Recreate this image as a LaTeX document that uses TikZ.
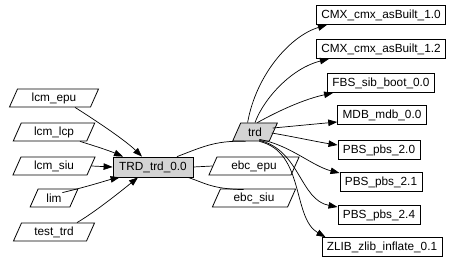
\documentclass[tikz,border=0pt]{standalone}
\usepackage{fontspec}
\setmainfont{Liberation Sans}
\usetikzlibrary{shapes.geometric,arrows.meta,calc}
\definecolor{nodegray}{RGB}{211,211,211}
\begin{document}
\begin{tikzpicture}[x=1pt,y=-1pt,
  every node/.style={font=\fontsize{11.8}{13}\selectfont, inner sep=0pt},
  pbox/.style={draw, line width=0.8pt, rectangle, minimum height=19pt, inner xsep=5pt},
  para/.style={draw, line width=0.8pt, trapezium, trapezium left angle=66, trapezium right angle=114, minimum height=18pt},
  hl/.style={fill=nodegray},
  ln/.style={line width=0.7pt},
  arr/.style={line width=0.7pt, -{Triangle[length=9pt,width=6.5pt]}}]
\useasboundingbox (0,0) rectangle (465,264);
% left inputs
\node[para, minimum width=67pt] (epu) at (54,98) {lcm\_epu};
\node[para, minimum width=67pt] (lcp) at (54,132) {lcm\_lcp};
\node[para, minimum width=67pt] (siu) at (54,166) {lcm\_siu};
\node[para, minimum width=36pt] (lim) at (54,198) {lim};
\node[para, minimum width=66pt] (test) at (54,232) {test\_trd};
% center
\node[pbox, hl, minimum width=80pt, minimum height=20pt, inner xsep=0pt] (T) at (153,167) {TRD\_trd\_0.0};
\node[para, hl, minimum width=36pt] (trd) at (255,132) {trd};
\node[para, minimum width=65pt] (ebce) at (254,166) {ebc\_epu};
\node[para, minimum width=65pt] (ebcs) at (254,198) {ebc\_siu};
% right outputs
\node[pbox] (c10) at (381,15) {CMX\_cmx\_asBuilt\_1.0};
\node[pbox] (c12) at (381,49) {CMX\_cmx\_asBuilt\_1.2};
\node[pbox] (fbs) at (381,83) {FBS\_sib\_boot\_0.0};
\node[pbox] (mdb) at (382,115) {MDB\_mdb\_0.0};
\node[pbox] (p20) at (379,150) {PBS\_pbs\_2.0};
\node[pbox] (p21) at (381,182) {PBS\_pbs\_2.1};
\node[pbox] (p24) at (379,215) {PBS\_pbs\_2.4};
\node[pbox] (zlib) at (382,247) {ZLIB\_zlib\_inflate\_0.1};
% left edges
\draw[arr] ($(epu.south)+(21,0)$) .. controls (95,120) and (125,140) .. ($(T.north)+(-11,0)$);
\draw[arr] ($(lcp.south)+(26,0)$) .. controls (95,146) and (110,151) .. ($(T.north)+(-30,0)$);
\draw[arr] (siu.east) -- (T.west);
\draw[arr] ($(lim.north east)+(-1,4)$) .. controls (90,186) and (108,180) .. ($(T.south west)+(7,0)$);
\draw[arr] ($(test.north)+(23,0)$) .. controls (95,212) and (120,192) .. ($(T.south)+(-15,0)$);
% center links
\draw[ln] ($(T.north)+(24,0)$) .. controls (200,148) and (215,140) .. (trd.south west);
\draw[ln] (T.east) -- (ebce.west);
\draw[ln] ($(T.south)+(35,0)$) .. controls (205,183) and (212,189) .. ($(ebcs.north west)+(-1,1)$);
% right edges
\draw[arr] ($(trd.north west)+(2,0)$) .. controls (256,75) and (290,36) .. ($(c10.south west)+(11,0)$);
\draw[arr] ($(trd.north)+(0,0)$) .. controls (264,98) and (292,68) .. ($(c12.south west)+(13,0)$);
\draw[arr] ($(trd.north east)+(-7,0)$) .. controls (280,110) and (305,99) .. ($(fbs.south west)+(6,0)$);
\draw[arr] ($(trd.east)+(-1,-4)$) .. controls (295,126) and (315,124) .. ($(mdb.west)+(0,7)$);
\draw[arr] ($(trd.east)+(-2,1)$) .. controls (295,137) and (318,142) .. ($(p20.west)+(0,-5)$);
\draw[arr] ($(trd.south east)+(-5,-2)$) .. controls (290,145) and (312,166) .. ($(p21.west)+(0,-9)$);
\draw[arr] ($(trd.south east)+(-5,-1)$) .. controls (300,150) and (300,200) .. ($(p24.west)+(0,-8)$);
\draw[arr] ($(trd.south east)+(-5,0)$) .. controls (305,152) and (292,218) .. ($(zlib.north west)+(4,0)$);
\end{tikzpicture}
\end{document}
